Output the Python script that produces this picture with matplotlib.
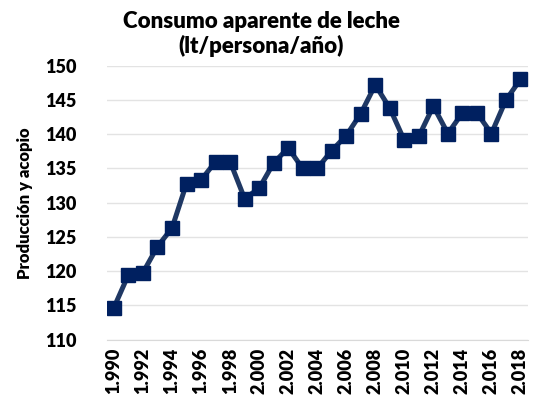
import matplotlib.pyplot as plt

# Data
years = list(range(1990, 2019))
consumo = [114.7, 119.5, 119.8, 123.6, 126.3, 132.8, 133.3, 136.0, 136.0, 130.6,
           132.1, 135.8, 138.0, 135.0, 135.0, 137.6, 139.8, 143.0, 147.2, 143.8,
           139.1, 139.7, 144.1, 140.1, 143.1, 143.1, 140.1, 145.0, 148.0]
tick_years = years[::2]
tick_labels = ['{:d}.{:03d}'.format(y // 1000, y % 1000) for y in tick_years]

plt.rcParams['font.family'] = ['Lato', 'DejaVu Sans']
plt.rcParams['font.weight'] = 'heavy'

fig = plt.figure(figsize=(5.35, 4.05), dpi=100)
ax = fig.add_axes([0.1994, 0.1612, 0.787, 0.6766])

x = list(range(len(years)))
ax.plot(x, consumo, color='#1F3864', lw=3.6, marker='s', markersize=10.5,
        markerfacecolor='#002060', markeredgecolor='#002060', zorder=3)

ax.set_xlim(-0.5, len(years) - 0.5)
ax.set_ylim(110, 150)
ax.set_yticks(range(110, 151, 5))
ax.set_xticks([years.index(y) for y in tick_years])
ax.set_xticklabels(tick_labels, rotation=90, fontsize=13, fontweight='heavy')
ax.tick_params(axis='y', labelsize=13, length=0, pad=22)
ax.tick_params(axis='x', length=0, pad=6)
for lab in ax.get_yticklabels():
    lab.set_fontweight('heavy')

ax.grid(axis='y', color='#E3E3E3', lw=1.0)
ax.set_axisbelow(True)
for s in ['top', 'right', 'left']:
    ax.spines[s].set_visible(False)
ax.spines['bottom'].set_color('#D9D9D9')

ax.set_ylabel('Producción y acopio', fontsize=12, fontweight='heavy')
ax.yaxis.set_label_coords(-0.175, 0.5)
fig.text(0.488, 0.973, 'Consumo aparente de leche\n(lt/persona/año)', ha='center', va='top',
         fontsize=16, fontweight='heavy', linespacing=1.15)

fig.savefig('out.png', dpi=100)
